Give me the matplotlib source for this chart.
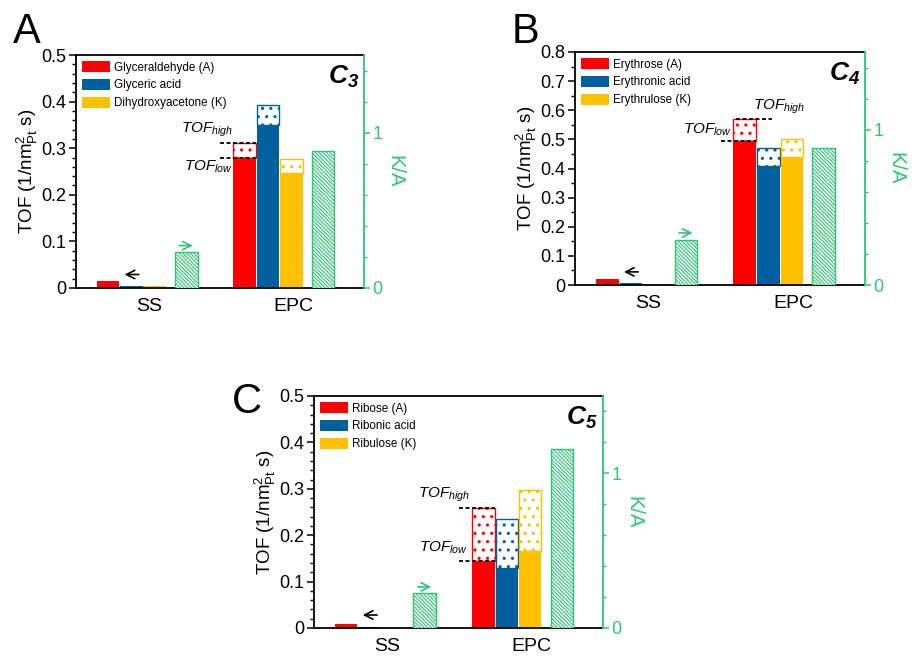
import numpy as np
import matplotlib
matplotlib.use("Agg")
import matplotlib.pyplot as plt
from matplotlib.ticker import MultipleLocator, FuncFormatter

plt.rcParams["font.family"] = ["Liberation Sans", "DejaVu Sans"]
plt.rcParams["mathtext.fontset"] = "custom"
plt.rcParams["mathtext.rm"] = "Liberation Sans"
plt.rcParams["mathtext.it"] = "Liberation Sans:italic"
plt.rcParams["mathtext.bf"] = "Liberation Sans:italic:bold"

RED, BLUE, YELLOW, GREEN = "#FF0000", "#00619E", "#FFC000", "#2DC575"

# ---------------- data ----------------
groups = ["SS", "EPC"]

# A: C3
names_c3 = ["Glyceraldehyde (A)", "Glyceric acid", "Dihydroxyacetone (K)"]
tof_ss_c3 = [0.015, 0.005, 0.005]
tof_low_c3 = [0.278, 0.349, 0.247]     # EPC, TOF_low
tof_high_c3 = [0.311, 0.392, 0.276]    # EPC, TOF_high
ka_c3 = [0.234, 0.884]                 # K/A for SS, EPC

# B: C4
names_c4 = ["Erythrose (A)", "Erythronic acid", "Erythrulose (K)"]
tof_ss_c4 = [0.0195, 0.006, 0.005]
tof_low_c4 = [0.495, 0.410, 0.438]
tof_high_c4 = [0.570, 0.472, 0.501]
ka_c4 = [0.290, 0.882]

# C: C5
names_c5 = ["Ribose (A)", "Ribonic acid", "Ribulose (K)"]
tof_ss_c5 = [0.0093, 0.003, 0.0005]
tof_low_c5 = [0.145, 0.130, 0.167]
tof_high_c5 = [0.258, 0.234, 0.297]
ka_c5 = [0.224, 1.155]

# ---------------- layout ----------------
OFFS = [-0.286, -0.114, 0.056]   # red, blue, yellow bar offsets inside a group
OFF_G = 0.287                    # green K/A bar
W = 0.165
XLIM = (-0.52, 1.587)
XTICKS = [0.012, 1.067]

panels = [
    dict(rect=[76, 55, 288, 233], letter="A", lxy=(13, 43), carbon=r"$\mathbf{C_3}$",
         names=names_c3, ss=tof_ss_c3, low=tof_low_c3, high=tof_high_c3, ka=ka_c3,
         ymax=0.5, minor=0.02,
         dash_hi=(-0.467, -0.204), dash_lo=(-0.467, -0.204),
         txt_hi=(-0.372, 0.339, "right"), txt_lo=(-0.372, 0.26, "right"),
         arr_k=0.029, arr_g=0.273),
    dict(rect=[575, 52, 290, 233], letter="B", lxy=(512, 43), carbon=r"$\mathbf{C_4}$",
         names=names_c4, ss=tof_ss_c4, low=tof_low_c4, high=tof_high_c4, ka=ka_c4,
         ymax=0.8, minor=0.05,
         dash_hi=(-0.348, -0.09), dash_lo=(-0.457, -0.202),
         txt_hi=(-0.229, 0.612, "left"), txt_lo=(-0.382, 0.533, "right"),
         arr_k=0.045, arr_g=0.335),
    dict(rect=[314, 396, 289, 232], letter="C", lxy=(232, 413), carbon=r"$\mathbf{C_5}$",
         names=names_c5, ss=tof_ss_c5, low=tof_low_c5, high=tof_high_c5, ka=ka_c5,
         ymax=0.5, minor=0.02,
         dash_hi=(-0.461, -0.201), dash_lo=(-0.461, -0.201),
         txt_hi=(-0.383, 0.287, "right"), txt_lo=(-0.398, 0.172, "right"),
         arr_k=0.028, arr_g=0.266),
]

FW, FH = 919, 667
fig = plt.figure(figsize=(FW / 100, FH / 100), dpi=100)


def hatch_lw(patches, lw):
    for p in patches:
        if hasattr(p, "set_hatch_linewidth"):
            p.set_hatch_linewidth(lw)


def tick_fmt(v, pos):
    return "0" if abs(v) < 1e-9 else f"{v:.1f}"


for P in panels:
    l, t, w, h = P["rect"]
    ax = fig.add_axes([l / FW, 1 - (t + h) / FH, w / FW, h / FH])
    ax2 = ax.twinx()
    colors = [RED, BLUE, YELLOW]

    for k in range(3):
        ax.bar(OFFS[k], P["ss"][k], W, color=colors[k], label=P["names"][k])
        ax.bar(1 + OFFS[k], P["low"][k], W, color=colors[k])
        top = ax.bar(1 + OFFS[k], P["high"][k] - P["low"][k], W, bottom=P["low"][k],
                     facecolor="white", edgecolor=colors[k], hatch="..", lw=1.0)
        hatch_lw(top, 1.1)

    g = ax2.bar([OFF_G, 1 + OFF_G], P["ka"], W, facecolor="white",
                edgecolor=GREEN, hatch="\\" * 9, lw=1.0)
    hatch_lw(g, 0.8)

    # dashed TOF_low / TOF_high guides on the EPC aldose bar
    dash = (0, (2.2, 1.4))
    ax.plot([1 + P["dash_hi"][0], 1 + P["dash_hi"][1]], [P["high"][0]] * 2,
            color="black", lw=1.3, ls=dash)
    ax.plot([1 + P["dash_lo"][0], 1 + P["dash_lo"][1]], [P["low"][0]] * 2,
            color="black", lw=1.3, ls=dash)
    xh, yh, hah = P["txt_hi"]
    xl, yl, hal = P["txt_lo"]
    ax.text(1 + xh, yh, r"$TOF_{high}$", fontsize=11, ha=hah, va="center")
    ax.text(1 + xl, yl, r"$TOF_{low}$", fontsize=11, ha=hal, va="center")

    # axis-pointer arrows
    ax.annotate("", xy=(-0.185, P["arr_k"]), xytext=(-0.04, P["arr_k"]),
                arrowprops=dict(arrowstyle="->", color="black", lw=1.2, mutation_scale=15))
    ax2.annotate("", xy=(0.355, P["arr_g"]), xytext=(0.215, P["arr_g"]),
                 arrowprops=dict(arrowstyle="->", color=GREEN, lw=1.2, mutation_scale=15))

    ax.set_xlim(*XLIM)
    ax.set_ylim(0, P["ymax"])
    ax2.set_ylim(0, 1.5)
    ax.set_xticks(XTICKS)
    ax.set_xticklabels(groups, fontsize=14)
    ax.tick_params(axis="x", length=0, pad=7)

    ax.yaxis.set_major_locator(MultipleLocator(0.1))
    ax.yaxis.set_minor_locator(MultipleLocator(P["minor"]))
    ax.yaxis.set_major_formatter(FuncFormatter(tick_fmt))
    ax.tick_params(axis="y", which="major", direction="out", length=5, width=1.1,
                   labelsize=13, pad=2)
    ax.tick_params(axis="y", which="minor", direction="out", length=3, width=1.0)
    ax.set_ylabel(r"TOF (1/$\mathrm{nm}^{2}_{\mathrm{Pt}}$ s)", fontsize=13.5, labelpad=1)

    ax2.yaxis.set_major_locator(MultipleLocator(1))
    ax2.yaxis.set_minor_locator(MultipleLocator(0.2))
    ax2.tick_params(axis="y", which="major", direction="out", length=4, width=1.1,
                    colors=GREEN, labelsize=13, pad=2)
    ax2.tick_params(axis="y", which="minor", direction="out", length=2, width=1.0,
                    colors=GREEN)
    ax2.set_ylabel("K/A", color=GREEN, fontsize=14.5, rotation=-90, va="bottom", labelpad=2)

    for s in ["left", "bottom", "top"]:
        ax.spines[s].set_linewidth(1.3)
        ax2.spines[s].set_visible(False)
    ax.spines["right"].set_visible(False)
    ax2.spines["right"].set_color(GREEN)
    ax2.spines["right"].set_linewidth(1.3)

    ax.legend(loc="upper left", frameon=False, fontsize=8.4, handlelength=2.35,
              handleheight=1.05, labelspacing=0.45, handletextpad=0.35,
              borderaxespad=0.45, borderpad=0.1)
    ax.text(1 - 5 / w, 1 - 9 / h, P["carbon"], transform=ax.transAxes,
            fontsize=19, ha="right", va="top")

    lx, ly = P["lxy"]
    fig.text(lx / FW, 1 - ly / FH, P["letter"], fontsize=30, ha="left", va="baseline")

fig.savefig("out.png", dpi=100)
